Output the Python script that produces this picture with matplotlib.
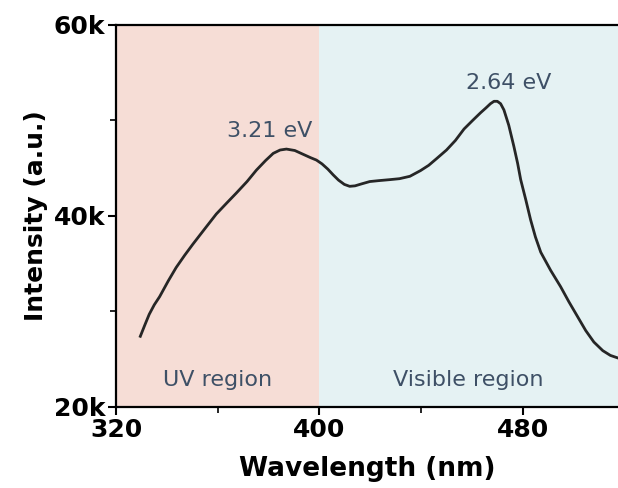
import matplotlib
matplotlib.use("Agg")
import matplotlib.pyplot as plt
from matplotlib.ticker import FuncFormatter, MultipleLocator

# spectrum (nm, counts)
wavelength = [329.5, 331.3, 333.0, 335.0, 337.1, 340.5, 343.6, 347.0, 350.2, 355.0,
              359.4, 363.5, 367.3, 371.5, 375.2, 378.8, 381.8, 384.5, 387.0, 390.3,
              393.6, 396.5, 398.8, 401.0, 403.3, 405.4, 407.5, 409.8, 411.9, 414.0,
              416.5, 419.8, 423.5, 427.7, 431.5, 435.6, 439.8, 443.0, 446.1, 450.0,
              453.5, 456.9, 460.3, 463.4, 465.5, 467.3, 468.7, 470.0, 471.3, 472.6,
              474.5, 476.5, 478.0, 479.2, 481.2, 483.1, 485.0, 487.1, 491.0, 494.9,
              498.2, 501.5, 504.8, 508.0, 511.5, 514.5, 517.8]
intensity = [27400, 28600, 29700, 30700, 31550, 33200, 34600, 35900, 37050, 38700,
             40200, 41350, 42400, 43600, 44800, 45800, 46550, 46900, 47000, 46850,
             46450, 46100, 45850, 45450, 44900, 44300, 43750, 43300, 43100, 43150,
             43350, 43600, 43700, 43800, 43900, 44150, 44750, 45300, 46000, 46900,
             47900, 49100, 50000, 50800, 51300, 51750, 52000, 52000, 51750, 51100,
             49500, 47300, 45500, 43800, 41700, 39600, 37800, 36200, 34300, 32600,
             31000, 29500, 28000, 26800, 25900, 25400, 25100]

regions = ["UV region", "Visible region"]
region_edges = [320, 400, 520]
region_colors = ["#f6ddd6", "#e5f2f3"]
peak_labels = ["3.21 eV", "2.64 eV"]
peak_pos = [(380.3, 48900), (474.5, 53900)]

text_color = "#3e5066"

fig = plt.figure(figsize=(6.18, 4.88), dpi=100)
ax = fig.add_axes([0.188, 0.166, 0.812, 0.783])

for i, name in enumerate(regions):
    lo, hi = region_edges[i], region_edges[i + 1]
    ax.axvspan(lo, hi, color=region_colors[i], lw=0, zorder=0)
    xc = (lo + min(hi, 517.5)) / 2
    ax.text(xc, 22800, name, ha="center", va="center", fontsize=16, color=text_color)

ax.plot(wavelength, intensity, color="#262626", lw=2, zorder=3,
        solid_joinstyle="round")

for lab, (px, py) in zip(peak_labels, peak_pos):
    ax.text(px, py, lab, ha="center", va="center", fontsize=16, color=text_color)

ax.set_xlim(320, 517.5)
ax.set_ylim(20000, 60000)
ax.xaxis.set_major_locator(MultipleLocator(80))
ax.xaxis.set_minor_locator(MultipleLocator(40))
ax.yaxis.set_major_locator(MultipleLocator(20000))
ax.yaxis.set_minor_locator(MultipleLocator(10000))
ax.yaxis.set_major_formatter(FuncFormatter(lambda v, p: f"{int(v/1000)}k"))

for s in ["left", "bottom", "top"]:
    ax.spines[s].set_linewidth(1.6)
ax.spines["right"].set_visible(False)

ax.tick_params(which="major", length=6, width=1.5, labelsize=18, pad=2)
ax.tick_params(which="minor", length=4, width=1.2)
for lbl in ax.get_xticklabels() + ax.get_yticklabels():
    lbl.set_fontweight("bold")

ax.set_xlabel("Wavelength (nm)", fontsize=19, fontweight="bold", labelpad=10)
ax.set_ylabel("Intensity (a.u.)", fontsize=18, fontweight="bold", labelpad=4)

fig.savefig("out.png", dpi=100, facecolor="white")
